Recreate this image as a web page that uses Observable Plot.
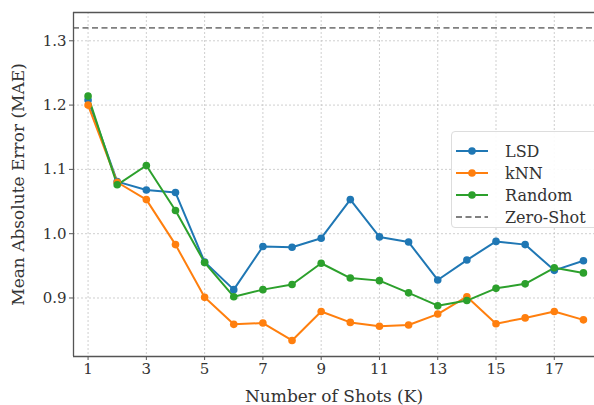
<!DOCTYPE html>
<html>
<head>
<meta charset="utf-8">
<script src="https://cdn.jsdelivr.net/npm/d3@7"></script>
<script src="https://cdn.jsdelivr.net/npm/@observablehq/plot@0.6"></script>
<style>
  html, body { margin: 0; padding: 0; background: #fff; }
  #wrap { position: relative; width: 594px; height: 405px; overflow: hidden; font-family: "DejaVu Serif", serif; }
  #legend { position: absolute; left: 451px; top: 131px; width: 150px; height: 97px; background: rgba(255,255,255,0.9); border: 1px solid #ddd; border-radius: 4px; box-sizing: border-box; }
  .item { position: absolute; left: 0; height: 20px; display: flex; align-items: center; font-size: 16px; color: #333; }
  .item svg { margin-left: 3px; margin-right: 16px; }
  g[aria-label="x-axis label"] text, g[aria-label="y-axis label"] text { font-size: 17px; }
</style>
</head>
<body>
<div id="wrap"></div>
<script>
const shots = [1,2,3,4,5,6,7,8,9,10,11,12,13,14,15,16,17,18];
const lsd    = [1.208,1.081,1.068,1.064,0.956,0.913,0.980,0.979,0.993,1.053,0.995,0.987,0.928,0.959,0.988,0.983,0.943,0.958];
const knn    = [1.200,1.080,1.053,0.983,0.901,0.859,0.861,0.834,0.879,0.862,0.856,0.858,0.875,0.902,0.860,0.869,0.879,0.866];
const random = [1.214,1.076,1.106,1.036,0.955,0.902,0.913,0.921,0.954,0.931,0.927,0.908,0.888,0.896,0.915,0.922,0.947,0.939];
const zeroShot = 1.32;
const seriesNames = ["LSD", "kNN", "Random"];
const seriesColors = ["#1f77b4", "#ff7f0e", "#2ca02c"];
const xTicks = [1,3,5,7,9,11,13,15,17];
const yTicks = [0.9,1.0,1.1,1.2,1.3];
const xDomain = [0.5, 18.38];
const yDomain = [0.809, 1.344];

const rows = [];
[lsd, knn, random].forEach((vals, i) => vals.forEach((v, j) => rows.push({series: seriesNames[i], k: shots[j], mae: v})));

const chart = Plot.plot({
  width: 594,
  height: 405,
  marginLeft: 73,
  marginRight: 0,
  marginTop: 12,
  marginBottom: 49,
  style: {fontFamily: "DejaVu Serif, serif", fontSize: "15px", color: "#333", background: "#fff"},
  x: {domain: xDomain},
  y: {domain: yDomain},
  color: {domain: seriesNames, range: seriesColors},
  marks: [
    Plot.gridX(xTicks, {stroke: "#bbb", strokeOpacity: 0.7, strokeDasharray: "2,2"}),
    Plot.gridY(yTicks, {stroke: "#bbb", strokeOpacity: 0.7, strokeDasharray: "2,2"}),
    Plot.ruleY([zeroShot], {stroke: "#808080", strokeWidth: 1.8, strokeDasharray: "6,3.5"}),
    Plot.line(rows, {x: "k", y: "mae", z: "series", stroke: "series", strokeWidth: 2}),
    Plot.dot(rows, {x: "k", y: "mae", fill: "series", r: 3.8}),
    Plot.ruleX([xDomain[0]], {stroke: "#555", strokeWidth: 1.3}),
    Plot.ruleY([yDomain[0]], {stroke: "#555", strokeWidth: 1.3}),
    Plot.ruleY([yDomain[1]], {stroke: "#555", strokeWidth: 1.3}),
    Plot.axisX(xTicks, {tickSize: 4, tickPadding: 3, fontSize: 15, stroke: "#555",
      label: "Number of Shots (K)", labelAnchor: "center", labelArrow: "none", labelOffset: 45}),
    Plot.axisY(yTicks, {tickSize: 4, tickPadding: 3, fontSize: 15, stroke: "#555", tickFormat: d3.format(".1f"),
      label: "Mean Absolute Error (MAE)", labelAnchor: "center", labelArrow: "none", labelOffset: 62})
  ]
});
const wrap = document.getElementById("wrap");
wrap.appendChild(chart);

const legend = document.createElement("div");
legend.id = "legend";
const items = seriesNames.map((n, i) => ({name: n, color: seriesColors[i], dash: false}));
items.push({name: "Zero-Shot", color: "#808080", dash: true});
items.forEach((it, i) => {
  const d = document.createElement("div");
  d.className = "item";
  d.style.top = (9 + i * 22) + "px";
  const sw = it.dash
    ? `<svg width="34" height="10"><line x1="1" y1="5" x2="33" y2="5" stroke="${it.color}" stroke-width="1.8" stroke-dasharray="6,3.5"/></svg>`
    : `<svg width="34" height="10"><line x1="1" y1="5" x2="33" y2="5" stroke="${it.color}" stroke-width="2"/><circle cx="17" cy="5" r="3.8" fill="${it.color}"/></svg>`;
  d.innerHTML = sw + `<span>${it.name}</span>`;
  legend.appendChild(d);
});
wrap.appendChild(legend);
</script>
</body>
</html>
